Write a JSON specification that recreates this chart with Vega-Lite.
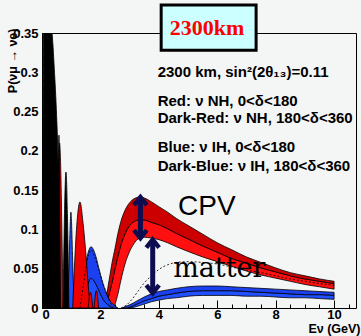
{
  "$schema": "https://vega.github.io/schema/vega-lite/v6.json",
  "width": 314,
  "height": 275,
  "autosize": "none",
  "padding": {"left": 42, "top": 33, "right": 5, "bottom": 28},
  "background": "#f4f5f5",
  "config": {
    "view": {"stroke": "black", "strokeWidth": 1, "fill": "#f4f5f5"},
    "font": "Liberation Sans"
  },
  "datasets": {
    "nh": [
      {"E": 2.0, "lo": 0, "mid": 0, "hi": 0},
      {"E": 2.1, "lo": 0, "mid": 0, "hi": 0.002},
      {"E": 2.2, "lo": 0, "mid": 0.005, "hi": 0.015},
      {"E": 2.3, "lo": 0, "mid": 0.018, "hi": 0.036},
      {"E": 2.4, "lo": 0, "mid": 0.033, "hi": 0.058},
      {"E": 2.5, "lo": 0.005, "mid": 0.05, "hi": 0.076},
      {"E": 2.6, "lo": 0.018, "mid": 0.066, "hi": 0.095},
      {"E": 2.7, "lo": 0.035, "mid": 0.08, "hi": 0.11},
      {"E": 2.85, "lo": 0.057, "mid": 0.095, "hi": 0.125},
      {"E": 3.0, "lo": 0.072, "mid": 0.105, "hi": 0.134},
      {"E": 3.15, "lo": 0.082, "mid": 0.11, "hi": 0.139},
      {"E": 3.3, "lo": 0.088, "mid": 0.112, "hi": 0.141},
      {"E": 3.5, "lo": 0.09, "mid": 0.112, "hi": 0.14},
      {"E": 3.75, "lo": 0.089, "mid": 0.109, "hi": 0.135},
      {"E": 4.0, "lo": 0.087, "mid": 0.106, "hi": 0.129},
      {"E": 4.3, "lo": 0.083, "mid": 0.101, "hi": 0.122},
      {"E": 4.6, "lo": 0.078, "mid": 0.095, "hi": 0.114},
      {"E": 5.0, "lo": 0.072, "mid": 0.088, "hi": 0.105},
      {"E": 5.5, "lo": 0.065, "mid": 0.079, "hi": 0.094},
      {"E": 6.0, "lo": 0.059, "mid": 0.071, "hi": 0.083},
      {"E": 6.5, "lo": 0.053, "mid": 0.063, "hi": 0.074},
      {"E": 7.0, "lo": 0.047, "mid": 0.057, "hi": 0.065},
      {"E": 7.5, "lo": 0.042, "mid": 0.051, "hi": 0.058},
      {"E": 8.0, "lo": 0.038, "mid": 0.046, "hi": 0.051},
      {"E": 8.5, "lo": 0.034, "mid": 0.041, "hi": 0.045},
      {"E": 9.0, "lo": 0.03, "mid": 0.037, "hi": 0.041},
      {"E": 9.5, "lo": 0.027, "mid": 0.034, "hi": 0.037},
      {"E": 10.0, "lo": 0.024, "mid": 0.031, "hi": 0.034}
    ],
    "ih": [
      {"E": 2.75, "lo": 0, "mid": 0, "hi": 0},
      {"E": 2.85, "lo": 0, "mid": 0, "hi": 0.002},
      {"E": 3.0, "lo": 0, "mid": 0.001, "hi": 0.004},
      {"E": 3.25, "lo": 0.002, "mid": 0.005, "hi": 0.009},
      {"E": 3.5, "lo": 0.005, "mid": 0.009, "hi": 0.014},
      {"E": 3.75, "lo": 0.008, "mid": 0.012, "hi": 0.018},
      {"E": 4.0, "lo": 0.01, "mid": 0.015, "hi": 0.021},
      {"E": 4.3, "lo": 0.012, "mid": 0.017, "hi": 0.023},
      {"E": 4.6, "lo": 0.013, "mid": 0.019, "hi": 0.025},
      {"E": 5.0, "lo": 0.015, "mid": 0.021, "hi": 0.027},
      {"E": 5.5, "lo": 0.016, "mid": 0.022, "hi": 0.028},
      {"E": 6.0, "lo": 0.016, "mid": 0.022, "hi": 0.028},
      {"E": 6.5, "lo": 0.016, "mid": 0.022, "hi": 0.027},
      {"E": 7.0, "lo": 0.015, "mid": 0.021, "hi": 0.026},
      {"E": 7.5, "lo": 0.015, "mid": 0.02, "hi": 0.025},
      {"E": 8.0, "lo": 0.014, "mid": 0.019, "hi": 0.024},
      {"E": 8.5, "lo": 0.013, "mid": 0.018, "hi": 0.023},
      {"E": 9.0, "lo": 0.013, "mid": 0.017, "hi": 0.022},
      {"E": 9.5, "lo": 0.012, "mid": 0.017, "hi": 0.021},
      {"E": 10.0, "lo": 0.011, "mid": 0.016, "hi": 0.02}
    ],
    "spk": [
      {"s": "bhl", "c": "b", "E": 1.3, "lo": 0, "hi": 0},
      {"s": "bhl", "c": "b", "E": 1.4, "lo": 0, "hi": 0.006},
      {"s": "bhl", "c": "b", "E": 1.45, "lo": 0, "hi": 0.012},
      {"s": "bhl", "c": "b", "E": 1.55, "lo": 0, "hi": 0.027},
      {"s": "bhl", "c": "b", "E": 1.62, "lo": 0, "hi": 0.035},
      {"s": "bhl", "c": "b", "E": 1.68, "lo": 0, "hi": 0.038},
      {"s": "bhl", "c": "b", "E": 1.75, "lo": 0, "hi": 0.036},
      {"s": "bhl", "c": "b", "E": 1.85, "lo": 0, "hi": 0.03},
      {"s": "bhl", "c": "b", "E": 1.95, "lo": 0, "hi": 0.022},
      {"s": "bhl", "c": "b", "E": 2.05, "lo": 0, "hi": 0.014},
      {"s": "bhl", "c": "b", "E": 2.15, "lo": 0, "hi": 0.008},
      {"s": "bhl", "c": "b", "E": 2.3, "lo": 0, "hi": 0.003},
      {"s": "bhl", "c": "b", "E": 2.45, "lo": 0, "hi": 0},
      {"s": "bhu", "c": "db", "E": 1.25, "lo": 0, "hi": 0},
      {"s": "bhu", "c": "db", "E": 1.35, "lo": 0, "hi": 0.02},
      {"s": "bhu", "c": "db", "E": 1.4, "lo": 0.006, "hi": 0.032},
      {"s": "bhu", "c": "db", "E": 1.45, "lo": 0.012, "hi": 0.045},
      {"s": "bhu", "c": "db", "E": 1.55, "lo": 0.027, "hi": 0.066},
      {"s": "bhu", "c": "db", "E": 1.62, "lo": 0.035, "hi": 0.075},
      {"s": "bhu", "c": "db", "E": 1.68, "lo": 0.038, "hi": 0.078},
      {"s": "bhu", "c": "db", "E": 1.75, "lo": 0.036, "hi": 0.075},
      {"s": "bhu", "c": "db", "E": 1.85, "lo": 0.03, "hi": 0.065},
      {"s": "bhu", "c": "db", "E": 1.95, "lo": 0.022, "hi": 0.05},
      {"s": "bhu", "c": "db", "E": 2.05, "lo": 0.014, "hi": 0.036},
      {"s": "bhu", "c": "db", "E": 2.15, "lo": 0.008, "hi": 0.024},
      {"s": "bhu", "c": "db", "E": 2.3, "lo": 0.003, "hi": 0.011},
      {"s": "bhu", "c": "db", "E": 2.45, "lo": 0, "hi": 0.004},
      {"s": "bhu", "c": "db", "E": 2.6, "lo": 0, "hi": 0},
      {"s": "b1", "c": "b", "E": 0.88, "lo": 0, "hi": 0},
      {"s": "b1", "c": "b", "E": 0.93, "lo": 0, "hi": 0.06},
      {"s": "b1", "c": "b", "E": 0.97, "lo": 0, "hi": 0.11},
      {"s": "b1", "c": "b", "E": 0.99, "lo": 0, "hi": 0.122},
      {"s": "b1", "c": "b", "E": 1.01, "lo": 0, "hi": 0.11},
      {"s": "b1", "c": "b", "E": 1.05, "lo": 0, "hi": 0.06},
      {"s": "b1", "c": "b", "E": 1.1, "lo": 0, "hi": 0},
      {"s": "r1", "c": "r", "E": 0.52, "lo": 0, "hi": 0},
      {"s": "r1", "c": "r", "E": 0.56, "lo": 0, "hi": 0.15},
      {"s": "r1", "c": "r", "E": 0.6, "lo": 0, "hi": 0.21},
      {"s": "r1", "c": "r", "E": 0.64, "lo": 0, "hi": 0.18},
      {"s": "r1", "c": "r", "E": 0.68, "lo": 0, "hi": 0.1},
      {"s": "r1", "c": "r", "E": 0.72, "lo": 0, "hi": 0},
      {"s": "r2", "c": "r", "E": 1.05, "lo": 0, "hi": 0},
      {"s": "r2", "c": "r", "E": 1.12, "lo": 0, "hi": 0.06},
      {"s": "r2", "c": "r", "E": 1.2, "lo": 0, "hi": 0.11},
      {"s": "r2", "c": "r", "E": 1.3, "lo": 0, "hi": 0.135},
      {"s": "r2", "c": "r", "E": 1.4, "lo": 0, "hi": 0.11},
      {"s": "r2", "c": "r", "E": 1.5, "lo": 0, "hi": 0.07},
      {"s": "r2", "c": "r", "E": 1.58, "lo": 0, "hi": 0.03},
      {"s": "r2", "c": "r", "E": 1.65, "lo": 0, "hi": 0},
      {"s": "r3", "c": "r", "E": 1.58, "lo": 0, "hi": 0},
      {"s": "r3", "c": "r", "E": 1.66, "lo": 0, "hi": 0.02},
      {"s": "r3", "c": "r", "E": 1.74, "lo": 0, "hi": 0},
      {"s": "r4", "c": "r", "E": 1.78, "lo": 0, "hi": 0},
      {"s": "r4", "c": "r", "E": 1.86, "lo": 0, "hi": 0.022},
      {"s": "r4", "c": "r", "E": 1.94, "lo": 0, "hi": 0},
      {"s": "bk1", "c": "bk", "E": 0.03, "lo": 0, "hi": 0},
      {"s": "bk1", "c": "bk", "E": 0.05, "lo": 0, "hi": 0.4},
      {"s": "bk1", "c": "bk", "E": 0.3, "lo": 0, "hi": 0.4},
      {"s": "bk1", "c": "bk", "E": 0.34, "lo": 0, "hi": 0.355},
      {"s": "bk1", "c": "bk", "E": 0.38, "lo": 0, "hi": 0.332},
      {"s": "bk1", "c": "bk", "E": 0.42, "lo": 0, "hi": 0.305},
      {"s": "bk1", "c": "bk", "E": 0.46, "lo": 0, "hi": 0.278},
      {"s": "bk1", "c": "bk", "E": 0.5, "lo": 0, "hi": 0.245},
      {"s": "bk1", "c": "bk", "E": 0.53, "lo": 0, "hi": 0.215},
      {"s": "bk1", "c": "bk", "E": 0.56, "lo": 0, "hi": 0.17},
      {"s": "bk1", "c": "bk", "E": 0.6, "lo": 0, "hi": 0.1},
      {"s": "bk1", "c": "bk", "E": 0.63, "lo": 0, "hi": 0},
      {"s": "bk2", "c": "bk", "E": 0.53, "lo": 0, "hi": 0},
      {"s": "bk2", "c": "bk", "E": 0.56, "lo": 0, "hi": 0.16},
      {"s": "bk2", "c": "bk", "E": 0.58, "lo": 0, "hi": 0.22},
      {"s": "bk2", "c": "bk", "E": 0.6, "lo": 0, "hi": 0.17},
      {"s": "bk2", "c": "bk", "E": 0.63, "lo": 0, "hi": 0},
      {"s": "bk3", "c": "bk", "E": 0.72, "lo": 0, "hi": 0},
      {"s": "bk3", "c": "bk", "E": 0.77, "lo": 0, "hi": 0.12},
      {"s": "bk3", "c": "bk", "E": 0.82, "lo": 0, "hi": 0.173},
      {"s": "bk3", "c": "bk", "E": 0.87, "lo": 0, "hi": 0.12},
      {"s": "bk3", "c": "bk", "E": 0.92, "lo": 0, "hi": 0}
    ],
    "dash": [
      {"s": "d1", "E": 1.3, "P": 0},
      {"s": "d1", "E": 1.4, "P": 0.025},
      {"s": "d1", "E": 1.5, "P": 0.05},
      {"s": "d1", "E": 1.6, "P": 0.068},
      {"s": "d1", "E": 1.68, "P": 0.074},
      {"s": "d1", "E": 1.8, "P": 0.065},
      {"s": "d1", "E": 1.95, "P": 0.048},
      {"s": "d1", "E": 2.1, "P": 0.03},
      {"s": "d1", "E": 2.2, "P": 0.02},
      {"s": "d1", "E": 2.3, "P": 0.01},
      {"s": "d1", "E": 2.43, "P": 0},
      {"s": "d2", "E": 2.7, "P": 0},
      {"s": "d2", "E": 2.9, "P": 0.004},
      {"s": "d2", "E": 3.1, "P": 0.012},
      {"s": "d2", "E": 3.3, "P": 0.022},
      {"s": "d2", "E": 3.5, "P": 0.032},
      {"s": "d2", "E": 3.75, "P": 0.041},
      {"s": "d2", "E": 4.0, "P": 0.049},
      {"s": "d2", "E": 4.3, "P": 0.055},
      {"s": "d2", "E": 4.6, "P": 0.058},
      {"s": "d2", "E": 5.0, "P": 0.059},
      {"s": "d2", "E": 5.5, "P": 0.058},
      {"s": "d2", "E": 6.0, "P": 0.056},
      {"s": "d2", "E": 6.5, "P": 0.052},
      {"s": "d2", "E": 7.0, "P": 0.048},
      {"s": "d2", "E": 7.5, "P": 0.045},
      {"s": "d2", "E": 8.0, "P": 0.041},
      {"s": "d2", "E": 8.5, "P": 0.037},
      {"s": "d2", "E": 9.0, "P": 0.034},
      {"s": "d2", "E": 9.5, "P": 0.031},
      {"s": "d2", "E": 10.0, "P": 0.029}
    ],
    "arrows": [
      {"E": 3.37, "P1": 0.141, "P2": 0.089},
      {"E": 3.79, "P1": 0.087, "P2": 0.019}
    ],
    "heads": [
      {"E": 3.37, "P": 0.136, "d": "up"},
      {"E": 3.37, "P": 0.094, "d": "dn"},
      {"E": 3.79, "P": 0.082, "d": "up"},
      {"E": 3.79, "P": 0.024, "d": "dn"}
    ],
    "legend": [
      {"t": "2300 km, sin²(2θ₁₃)=0.11", "E": 3.96, "P": 0.3},
      {"t": "Red: ν NH, 0<δ<180", "E": 3.96, "P": 0.263},
      {"t": "Dark-Red: ν NH, 180<δ<360", "E": 3.96, "P": 0.242},
      {"t": "Blue: ν IH, 0<δ<180", "E": 3.96, "P": 0.205},
      {"t": "Dark-Blue: ν IH, 180<δ<360", "E": 3.96, "P": 0.181}
    ],
    "big": [{"t": "CPV", "E": 4.66, "P": 0.1285}],
    "mat": [{"t": "matter", "E": 4.49, "P": 0.0394}],
    "box": [{"E1": 4.08, "E2": 7.33, "P1": 0.328, "P2": 0.3855, "t": "2300km", "Ec": 5.65, "Pc": 0.356}]
  },
  "layer": [
    {
      "data": {"name": "nh"},
      "mark": {"type": "area", "color": "#ff1010", "stroke": "black", "strokeWidth": 0.8, "interpolate": "monotone", "clip": true},
      "encoding": {
        "x": {"field": "E", "type": "quantitative", "scale": {"domain": [0, 10.75], "nice": false, "zero": false},
          "axis": {"orient": "bottom", "values": [0, 2, 4, 6, 8, 10], "format": "d", "tickSize": -8, "tickColor": "black", "domain": false, "grid": false,
            "labelFont": "Liberation Sans", "labelFontWeight": "bold", "labelFontSize": 13, "labelColor": "black", "labelPadding": 8,
            "title": "Eν (GeV)", "titleFont": "Liberation Sans", "titleFontWeight": "bold", "titleFontSize": 12.5, "titleColor": "black",
            "titleAnchor": "end", "titleAlign": "right", "titleBaseline": "middle", "titleX": 318, "titleY": 20.5}},
        "y": {"field": "mid", "type": "quantitative", "scale": {"domain": [0, 0.35], "nice": false},
          "axis": {"orient": "left", "values": [0, 0.05, 0.1, 0.15, 0.2, 0.25, 0.3, 0.35], "format": "~g", "tickSize": -8, "tickColor": "black", "domain": false, "grid": false,
            "labelFont": "Liberation Sans", "labelFontWeight": "bold", "labelFontSize": 13, "labelColor": "black", "labelPadding": 12,
            "title": "P(νμ → νe)", "titleFont": "Liberation Sans", "titleFontWeight": "bold", "titleFontSize": 12.5, "titleColor": "black",
            "titleAnchor": "end", "titleAngle": -90, "titleAlign": "right", "titleBaseline": "middle", "titleX": -30, "titleY": -5}},
        "y2": {"field": "lo"}
      }
    },
    {
      "data": {"name": "nh"},
      "mark": {"type": "area", "color": "#cc0000", "stroke": "black", "strokeWidth": 0.8, "interpolate": "monotone", "clip": true},
      "encoding": {
        "x": {"field": "E", "type": "quantitative",
          "axis": {"orient": "bottom", "values": [0, 0.5, 1, 1.5, 2, 2.5, 3, 3.5, 4, 4.5, 5, 5.5, 6, 6.5, 7, 7.5, 8, 8.5, 9, 9.5, 10, 10.5], "labels": false, "tickSize": -4, "tickColor": "black", "domain": false, "grid": false, "title": null}},
        "y": {"field": "hi", "type": "quantitative",
          "axis": {"orient": "left", "values": [0, 0.01, 0.02, 0.03, 0.04, 0.05, 0.06, 0.07, 0.08, 0.09, 0.1, 0.11, 0.12, 0.13, 0.14, 0.15, 0.16, 0.17, 0.18, 0.19, 0.2, 0.21, 0.22, 0.23, 0.24, 0.25, 0.26, 0.27, 0.28, 0.29, 0.3, 0.31, 0.32, 0.33, 0.34, 0.35], "labels": false, "tickSize": -4, "tickColor": "black", "domain": false, "grid": false, "title": null}},
        "y2": {"field": "mid"}
      }
    },
    {
      "data": {"name": "ih"},
      "mark": {"type": "area", "color": "#2050ff", "stroke": "black", "strokeWidth": 0.8, "interpolate": "monotone", "clip": true},
      "encoding": {
        "x": {"field": "E", "type": "quantitative", "axis": null},
        "y": {"field": "mid", "type": "quantitative", "axis": null},
        "y2": {"field": "lo"}
      }
    },
    {
      "data": {"name": "ih"},
      "mark": {"type": "area", "color": "#1a40f0", "stroke": "black", "strokeWidth": 0.8, "interpolate": "monotone", "clip": true},
      "encoding": {
        "x": {"field": "E", "type": "quantitative", "axis": null},
        "y": {"field": "hi", "type": "quantitative", "axis": null},
        "y2": {"field": "mid"}
      }
    },
    {
      "data": {"name": "spk"},
      "mark": {"type": "area", "stroke": "black", "strokeWidth": 0.8, "interpolate": "monotone", "clip": true, "opacity": 1},
      "encoding": {
        "x": {"field": "E", "type": "quantitative", "axis": null},
        "y": {"field": "hi", "type": "quantitative", "axis": null},
        "y2": {"field": "lo"},
        "color": {"field": "c", "type": "nominal", "legend": null,
          "scale": {"domain": ["b", "db", "r", "dr", "bk"], "range": ["#2050ff", "#1a40f0", "#ee0000", "#cc0000", "#000000"]}},
        "detail": {"field": "s"}
      }
    },
    {
      "data": {"name": "dash"},
      "mark": {"type": "line", "color": "black", "strokeWidth": 0.8, "strokeDash": [2, 2], "interpolate": "monotone", "clip": true},
      "encoding": {
        "x": {"field": "E", "type": "quantitative", "axis": null},
        "y": {"field": "P", "type": "quantitative", "axis": null},
        "detail": {"field": "s"}
      }
    },
    {
      "data": {"name": "arrows"},
      "mark": {"type": "rule", "color": "#0d0d50", "strokeWidth": 5},
      "encoding": {
        "x": {"field": "E", "type": "quantitative", "axis": null},
        "y": {"field": "P1", "type": "quantitative", "axis": null},
        "y2": {"field": "P2"}
      }
    },
    {
      "data": {"name": "heads"},
      "mark": {"type": "point", "filled": false, "color": "#0d0d50", "strokeWidth": 4.5, "size": 256, "opacity": 1},
      "encoding": {
        "x": {"field": "E", "type": "quantitative", "axis": null},
        "y": {"field": "P", "type": "quantitative", "axis": null},
        "shape": {"field": "d", "type": "nominal", "legend": null,
          "scale": {"domain": ["up", "dn"], "range": ["M-0.8,0.5L0,-0.5L0.8,0.5", "M-0.8,-0.5L0,0.5L0.8,-0.5"]}}
      }
    },
    {
      "data": {"name": "legend"},
      "mark": {"type": "text", "align": "left", "baseline": "middle", "font": "Liberation Sans", "fontWeight": "bold", "fontSize": 15, "color": "black"},
      "encoding": {
        "x": {"field": "E", "type": "quantitative", "axis": null},
        "y": {"field": "P", "type": "quantitative", "axis": null},
        "text": {"field": "t"}
      }
    },
    {
      "data": {"name": "big"},
      "mark": {"type": "text", "align": "left", "baseline": "middle", "font": "Liberation Sans", "fontSize": 28, "color": "black"},
      "encoding": {
        "x": {"field": "E", "type": "quantitative", "axis": null},
        "y": {"field": "P", "type": "quantitative", "axis": null},
        "text": {"field": "t"}
      }
    },
    {
      "data": {"name": "mat"},
      "mark": {"type": "text", "align": "left", "baseline": "alphabetic", "font": "DejaVu Serif", "fontSize": 27, "color": "black"},
      "encoding": {
        "x": {"field": "E", "type": "quantitative", "axis": null},
        "y": {"field": "P", "type": "quantitative", "axis": null},
        "text": {"field": "t"}
      }
    },
    {
      "data": {"name": "box"},
      "mark": {"type": "rect", "fill": "#ccffff", "stroke": "black", "strokeWidth": 3, "clip": false},
      "encoding": {
        "x": {"field": "E1", "type": "quantitative", "axis": null},
        "x2": {"field": "E2"},
        "y": {"field": "P1", "type": "quantitative", "axis": null},
        "y2": {"field": "P2"}
      }
    },
    {
      "data": {"name": "box"},
      "mark": {"type": "text", "align": "center", "baseline": "middle", "font": "Liberation Serif", "fontWeight": "bold", "fontSize": 22, "color": "#ff0000"},
      "encoding": {
        "x": {"field": "Ec", "type": "quantitative", "axis": null},
        "y": {"field": "Pc", "type": "quantitative", "axis": null},
        "text": {"field": "t"}
      }
    }
  ],
  "resolve": {"axis": {"x": "independent", "y": "independent"}}
}
